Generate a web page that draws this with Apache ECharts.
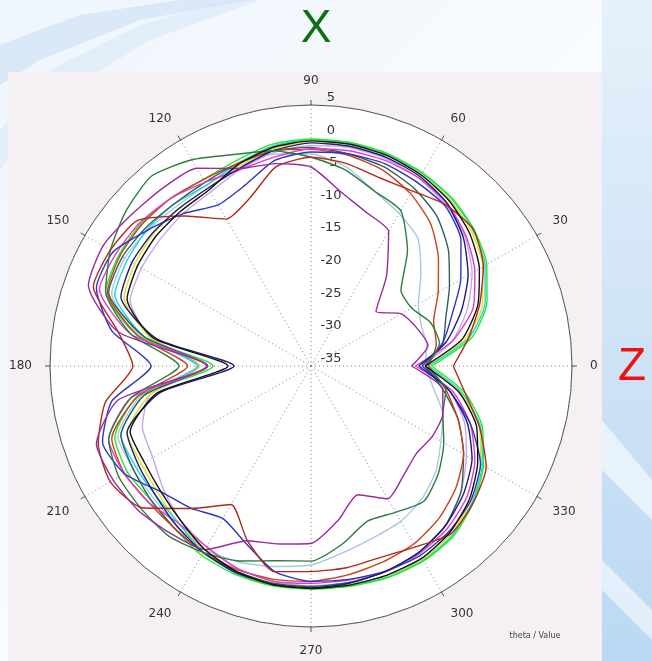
<!DOCTYPE html>
<html>
<head>
<meta charset="utf-8">
<script src="https://cdn.jsdelivr.net/npm/echarts@6/dist/echarts.min.js"></script>
<style>
html,body{margin:0;padding:0;background:#ffffff;}
#chart{width:652px;height:661px;}
</style>
</head>
<body>
<div id="chart"></div>
<script>
// angles (theta, degrees)
const THETA = [0,10,20,30,40,50,60,70,80,90,100,110,120,130,140,150,160,170,180,190,200,210,220,230,240,250,260,270,280,290,300,310,320,330,340,350];

const lime     = [-16.5,-10,-6.3,-3.9,-2.4,-1.4,-0.8,-0.4,-0.2,-0.2,-0.5,-1.5,-2,-1.5,-1,-1,-1.5,-8,-20,-8,-3,-2.5,-3,-2.5,-1.5,-1,-0.8,-0.8,-0.7,-0.5,-0.5,-1,-2.5,-4.5,-7,-11];
const cyan     = [-17,-10.5,-6.6,-4.2,-2.6,-1.5,-0.9,-0.5,-0.3,-0.3,-0.8,-2,-3,-2.5,-2.3,-2.5,-3,-9,-17.7,-9,-4,-4,-4,-3.5,-2,-1.2,-0.9,-0.9,-0.8,-0.6,-0.6,-1.2,-2.7,-4.7,-7.3,-11.5];
const yellow   = [-17.2,-11,-7,-4.6,-2.9,-1.8,-1.1,-0.7,-0.5,-0.6,-1.2,-2.5,-3.5,-3.5,-3.5,-3.8,-4.5,-10,-18,-10,-5,-5,-4.5,-3.5,-2.5,-1.5,-1.2,-1.1,-1,-0.8,-0.8,-1.5,-3,-5,-7.5,-11.8];
const black    = [-17.5,-11.5,-7.8,-5.2,-3.3,-2,-1.2,-0.7,-0.5,-0.5,-1,-2.2,-3.8,-4,-4,-4.3,-5,-10.5,-22.3,-11,-5.5,-5.5,-5,-4,-2.5,-1.5,-1,-0.9,-0.9,-0.9,-1,-1.8,-3.3,-5.5,-8,-12];
const lavender = [-18,-13,-9.5,-6.5,-4.2,-2.8,-1.8,-1.2,-1,-1.2,-1.8,-3,-4.2,-4.5,-4.8,-5,-5.5,-10,-19,-10,-7.5,-7,-5.5,-4,-3,-2,-1.5,-1.3,-1.3,-1.5,-2,-3,-5,-7.5,-10,-13.5];
const navy     = [-18.5,-14,-10.5,-7.2,-4.5,-2.5,-1.5,-1,-0.8,-0.8,-1.5,-2.8,-3.5,-3.5,-3.3,-3.3,-4,-11,-23.2,-11.5,-5,-4.5,-4,-3,-2,-1.3,-1,-1,-1.2,-1.5,-2,-3,-4.5,-6.5,-9.5,-13.5];
const blue     = [-18,-14.5,-12,-8.5,-5,-3,-2.5,-2,-2,-2.2,-3,-5.5,-6.5,-4.5,-2.5,0,0,-4,-10.5,-4,-1,-2,-5,-6.5,-8,-6,-3,-2,-1.8,-1.5,-1.5,-2,-3,-5,-9,-13.5];
const magenta  = [-19,-13,-8.5,-6,-4,-2.5,-1.8,-1.5,-1.5,-1.7,-2.5,-3,-2.5,-1.5,-0.8,-0.5,-0.5,-7,-19.2,-7,-2,-2,-2.5,-3.5,-3,-2,-1.5,-1.7,-1.7,-1.6,-1.8,-2.5,-3.8,-6,-9,-13];
const purple   = [-19.6,-16.8,-17.8,-19,-22,-17,-11.2,-10,-8,-4.5,-3.5,-2.8,0,0.5,1,1.8,1.3,-5,-19.2,-5,0,0,-0.5,-1.5,-2.5,-6.5,-7.3,-7.8,-11,-14,-11.5,-13,-14,-13.5,-13.5,-14.5];
const dkgreen  = [-17.5,-15,-15.5,-17.2,-17,-12,-7.5,-6.5,-4.5,-3,-1.5,-0.5,1.5,3,2,0.5,-1.5,-7,-14.8,-7,-2,-1,-1,-1,-2,-3.2,-4.7,-5.1,-7.3,-9.7,-9.1,-8,-9.5,-11.5,-13.5,-14];
const ltblue   = [-17.5,-17,-17,-16,-13,-9.5,-8,-6.5,-4,-2.5,-2,-2.5,-3,-3,-2.5,-2,-2.5,-8.5,-17.5,-8.5,-3.5,-3.5,-3.5,-3,-2.5,-3,-3.8,-4.5,-6,-7,-7.5,-8.5,-10,-12,-13.5,-16];
const dkred    = [-13.2,-10.5,-7.5,-4.5,-2.5,-2.8,-4,-4.3,-3.5,-3,-4,-7.6,-9,-5,-0.3,0.5,0.5,-5,-7.7,-3,-0.3,0.5,-1.2,-6.5,-10.5,-6.5,-3,-3.5,-3.6,-3.8,-3,-1.5,-2.5,-4,-7.5,-11];
const orange   = [-17,-15.5,-15,-12.5,-9.5,-6.5,-4.5,-3,-2.2,-1.8,-1.5,-2,-2,-1.5,-1.2,-1.2,-1.8,-8,-16.1,-8,-2.5,-2,-2.5,-2.5,-2,-1.8,-1.8,-2,-2.5,-3,-3.5,-4.5,-6,-8,-11,-14];
const teal     = [-17.5,-14.5,-13,-10.5,-7.5,-5,-3.5,-2.5,-2,-1.5,-1.5,-2,-2.5,-2.5,-2,-1.6,-2,-9,-19,-9,-4,-3.5,-3,-2.5,-2,-1.5,-1.2,-1.2,-1.3,-1.5,-2,-3,-5,-8,-11,-14.5];

const SERIES = [
  {name:'ltblue',  values:ltblue,  color:'#a9c6e6'},
  {name:'lavender',values:lavender,color:'#c7a6ea'},
  {name:'yellow',  values:yellow,  color:'#e4e01a'},
  {name:'cyan',    values:cyan,    color:'#22d2e2'},
  {name:'lime',    values:lime,    color:'#26e826'},
  {name:'teal',    values:teal,    color:'#2f5f5c'},
  {name:'orange',  values:orange,  color:'#c8421c'},
  {name:'magenta', values:magenta, color:'#e03ccc'},
  {name:'blue',    values:blue,    color:'#2a36c8'},
  {name:'navy',    values:navy,    color:'#1c1c7c'},
  {name:'dkgreen', values:dkgreen, color:'#2d7d3c'},
  {name:'dkred',   values:dkred,   color:'#b02a1a'},
  {name:'purple',  values:purple,  color:'#9a2a9e'},
  {name:'black',   values:black,   color:'#111111'}
];

const RADIUS_MIN = -35, RADIUS_MAX = 5, RADIUS_STEP = 5;

const chart = echarts.init(document.getElementById('chart'), null, {renderer:'canvas'});

const series = SERIES.map(s => {
  const pts = s.values.map((v,i) => [v, THETA[i]]);
  pts.push([s.values[0], 360]);
  return {
    type:'line', coordinateSystem:'polar', polarIndex:0, name:s.name,
    data: pts, symbol:'none', smooth:0.2,
    lineStyle:{color:s.color, width:1.4}, z:5
  };
});

const option = {
  animation:false,
  backgroundColor:'#ffffff',
  graphic:[
    {type:'rect', z:-10, silent:true, shape:{x:0,y:0,width:652,height:661},
     style:{fill:{type:'linear',x:0,y:0,x2:1,y2:1,colorStops:[{offset:0,color:'#eef5fc'},{offset:0.5,color:'#f8fbff'},{offset:1,color:'#d4e7f8'}]}}},
    {type:'polygon', z:-9, silent:true, shape:{points:[[0,45],[80,15],[180,0],[250,0],[140,20],[40,60],[0,85]]}, style:{fill:'rgba(195,218,242,0.5)'}},
    {type:'polygon', z:-9, silent:true, shape:{points:[[0,130],[50,70],[140,25],[230,0],[260,0],[150,40],[60,95],[0,170]]}, style:{fill:'rgba(208,227,246,0.45)'}},
    {type:'rect', z:-9, silent:true, shape:{x:602,y:0,width:50,height:661},
     style:{fill:{type:'linear',x:0,y:0,x2:0,y2:1,colorStops:[{offset:0,color:'#e6f1fb'},{offset:0.4,color:'#d4e6f7'},{offset:1,color:'#bcd8f2'}]}}},
    {type:'polygon', z:-8, silent:true, shape:{points:[[602,420],[652,480],[652,520],[602,470]]}, style:{fill:'rgba(235,244,252,0.9)'}},
    {type:'polygon', z:-8, silent:true, shape:{points:[[602,560],[652,610],[652,640],[602,590]]}, style:{fill:'rgba(235,244,252,0.8)'}},
    {type:'rect', z:-5, silent:true, shape:{x:8,y:72,width:594,height:589}, style:{fill:'#f5f0f4'}},
    {type:'text', z:10, style:{text:'X', x:316, y:29, align:'center', verticalAlign:'middle', font:'46px "Liberation Sans", Arial, sans-serif', fill:'#0f6e0f'}},
    {type:'text', z:10, style:{text:'Z', x:632, y:367, align:'center', verticalAlign:'middle', font:'46px "Liberation Sans", Arial, sans-serif', fill:'#ee1111'}},
    {type:'text', z:10, style:{text:'theta / Value', x:535, y:636, align:'center', verticalAlign:'middle', font:'8px "DejaVu Sans", sans-serif', fill:'#444'}}
  ],
  polar:[
    {center:[311,366], radius:261},
    {center:[311,366], radius:261}
  ],
  angleAxis:[
    {polarIndex:0, type:'value', min:0, max:360, interval:30, startAngle:0, clockwise:false,
     axisLine:{show:true, lineStyle:{color:'#555', width:1}},
     axisTick:{show:true, length:5, lineStyle:{color:'#555'}},
     axisLabel:{show:true, margin:18, align:'center', verticalAlign:'middle', color:'#333', fontSize:12, fontFamily:'"DejaVu Sans", sans-serif'},
     splitLine:{show:true, lineStyle:{color:'#808080', width:1, type:[1,3]}}},
    {polarIndex:1, type:'value', min:0, max:360, interval:30, startAngle:90, clockwise:false,
     axisLine:{show:false}, axisTick:{show:false}, axisLabel:{show:false}, splitLine:{show:false}}
  ],
  radiusAxis:[
    {polarIndex:0, type:'value', min:RADIUS_MIN, max:RADIUS_MAX, interval:RADIUS_STEP,
     axisLine:{show:false}, axisTick:{show:false}, axisLabel:{show:false},
     splitLine:{show:true, lineStyle:{color:'#808080', width:1, type:[1,3]}},
     splitArea:{show:true, areaStyle:{color:['#ffffff']}}},
    {polarIndex:1, type:'value', min:RADIUS_MIN, max:RADIUS_MAX, interval:RADIUS_STEP,
     axisLine:{show:false}, axisTick:{show:false}, splitLine:{show:false},
     axisLabel:{show:true, color:'#333', fontSize:13, margin:-20, align:'center', verticalAlign:'bottom', padding:[0,0,1,0], fontFamily:'"DejaVu Sans", sans-serif'}}
  ],
  series: series
};
chart.setOption(option);
</script>
</body>
</html>
